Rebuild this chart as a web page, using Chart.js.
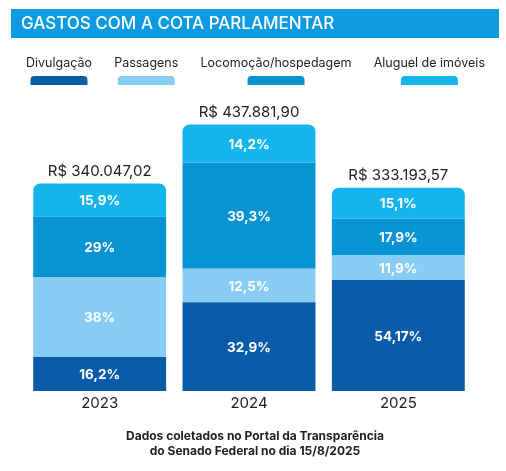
<!DOCTYPE html>
<html lang="pt-BR">
<head>
<meta charset="utf-8">
<title>Gastos com a cota parlamentar</title>
<script src="https://cdn.jsdelivr.net/npm/chart.js@4/dist/chart.umd.min.js"></script>
<style>
  html, body { margin: 0; padding: 0; background: #fff; }
  #chart { display: block; }
</style>
</head>
<body>
<canvas id="chart" width="506" height="471"></canvas>
<script>
// Chart data (percent of each year's total)
const years = ['2023', '2024', '2025'];
const totals = [340047.02, 437881.90, 333193.57];
const seriesNames = ['Divulgação', 'Passagens', 'Locomoção/hospedagem', 'Aluguel de imóveis'];
const divulgacao = [16.2, 32.9, 54.17];
const passagens = [38, 12.5, 11.9];
const locomocao = [29, 39.3, 17.9];
const aluguel = [15.9, 14.2, 15.1];
const seriesColors = ['#0a5ba8', '#88cef4', '#0893d3', '#14b5ec'];

const FONT = 'Inter, "Open Sans", sans-serif';
const TITLE_BG = '#0c9be0';

// "15.9" -> "15,9%"
function pctLabel(v) {
    return String(v).replace('.', ',') + '%';
}

// 340047.02 -> "R$ 340.047,02"
function brl(v) {
    const parts = v.toFixed(2).split('.');
    const intPart = parts[0].replace(/\B(?=(\d{3})+(?!\d))/g, '.');
    return 'R$ ' + intPart + ',' + parts[1];
}

const percentSeries = [divulgacao, passagens, locomocao, aluguel];

const datasets = percentSeries.map((pcts, s) => ({
    label: seriesNames[s],
    data: pcts.map((p, i) => totals[i] * p / 100),
    pct: pcts,
    backgroundColor: seriesColors[s],
    borderWidth: 0,
    borderSkipped: false,
    borderRadius: s === percentSeries.length - 1
        ? { topLeft: 7, topRight: 7, bottomLeft: 0, bottomRight: 0 }
        : 0
}));

// Title bar, legend, labels and footer
const decorPlugin = {
    id: 'decor',
    afterDraw(chart) {
        const ctx = chart.ctx;
        ctx.save();

        // title bar
        ctx.fillStyle = TITLE_BG;
        ctx.fillRect(11, 9, 488, 29);
        ctx.fillStyle = '#fff';
        ctx.font = '500 17px ' + FONT;
        ctx.textBaseline = 'middle';
        ctx.textAlign = 'left';
        ctx.fillText('GASTOS COM A COTA PARLAMENTAR', 21, 24);

        // legend: label above a rounded swatch
        ctx.font = '400 12.5px ' + FONT;
        const widths = seriesNames.map(n => ctx.measureText(n).width);
        const left = 26, right = 485;
        const gap = (right - left - widths.reduce((a, b) => a + b, 0)) / (seriesNames.length - 1);
        let x = left;
        seriesNames.forEach((name, s) => {
            const cx = x + widths[s] / 2;
            ctx.fillStyle = '#222';
            ctx.textAlign = 'center';
            ctx.fillText(name, cx, 63);
            ctx.fillStyle = seriesColors[s];
            ctx.beginPath();
            ctx.roundRect(cx - 28.5, 76, 57, 9, [4, 4, 0, 0]);
            ctx.fill();
            x += widths[s] + gap;
        });

        // percentage labels inside segments
        ctx.font = '700 13.5px ' + FONT;
        ctx.fillStyle = '#fff';
        ctx.textAlign = 'center';
        chart.data.datasets.forEach((ds, s) => {
            const meta = chart.getDatasetMeta(s);
            meta.data.forEach((bar, i) => {
                ctx.fillText(pctLabel(ds.pct[i]), bar.x, (bar.y + bar.base) / 2 + 1);
            });
        });

        // totals above each bar
        const topMeta = chart.getDatasetMeta(chart.data.datasets.length - 1);
        ctx.font = '400 15px ' + FONT;
        ctx.fillStyle = '#222';
        topMeta.data.forEach((bar, i) => {
            ctx.fillText(brl(totals[i]), bar.x, bar.y - 12);
        });

        // source footer
        ctx.font = '700 12px ' + FONT;
        ctx.fillStyle = '#222';
        ctx.fillText('Dados coletados no Portal da Transparência', 255, 436);
        ctx.fillText('do Senado Federal no dia 15/8/2025', 255, 451);

        ctx.restore();
    }
};

new Chart(document.getElementById('chart'), {
    type: 'bar',
    data: {
        labels: years,
        datasets: datasets
    },
    options: {
        responsive: false,
        animation: false,
        layout: {
            padding: { top: 114, left: 25, right: 33, bottom: 56 }
        },
        datasets: {
            bar: {
                categoryPercentage: 0.89,
                barPercentage: 1
            }
        },
        plugins: {
            legend: { display: false },
            tooltip: { enabled: false }
        },
        scales: {
            x: {
                stacked: true,
                grid: { display: false, drawTicks: false },
                border: { display: false },
                ticks: {
                    color: '#222',
                    padding: 3,
                    font: { family: FONT, size: 15 }
                }
            },
            y: {
                stacked: true,
                display: false,
                min: 0,
                max: 450000
            }
        }
    },
    plugins: [decorPlugin]
});
</script>
</body>
</html>
